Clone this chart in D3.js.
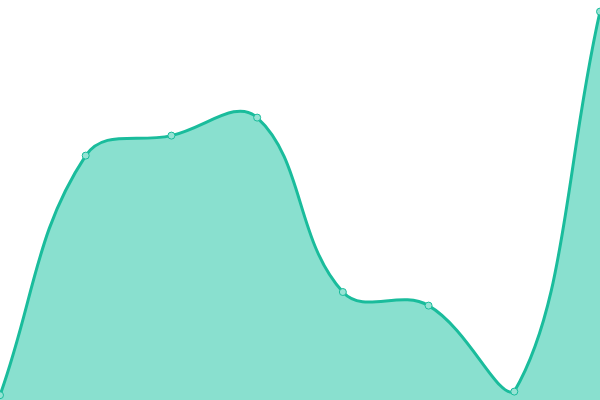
<!DOCTYPE html>
<html>
<head>
<meta charset="utf-8">
<script src="https://cdn.jsdelivr.net/npm/d3@7"></script>
<style>
  body { margin: 0; background: #fff; }
  svg { display: block; }
</style>
</head>
<body>
<div id="chart"></div>
<script>
var labels = ["a", "b", "c", "d", "e", "f", "g", "h"];
var values = [1.2, 61.1, 66.1, 70.6, 27.0, 23.6, 2.1, 97.1];

var width = 600, height = 400;

var svg = d3.select("#chart")
    .append("svg")
    .attr("width", width)
    .attr("height", height);

var x = d3.scalePoint().domain(labels).range([0, width]);
var y = d3.scaleLinear().domain([0, 100]).range([height, 0]);

// spline like chart.js (tension 0.4), control points kept inside the area
function splineCurve(context) {
    var pts;
    var t = 0.4;
    function clampX(v) { return Math.max(0, Math.min(width, v)); }
    function clampY(v) { return Math.max(0, Math.min(height, v)); }
    return {
        areaStart: function () { this._line = 0; },
        areaEnd: function () { this._line = NaN; },
        lineStart: function () { pts = []; },
        point: function (px, py) { pts.push([+px, +py]); },
        lineEnd: function () {
            var n = pts.length;
            if (!n) return;
            var ctrl = pts.map(function (p, i) {
                var prev = pts[Math.max(0, i - 1)], next = pts[Math.min(n - 1, i + 1)];
                var d01 = Math.hypot(p[0] - prev[0], p[1] - prev[1]);
                var d12 = Math.hypot(next[0] - p[0], next[1] - p[1]);
                var s01 = d01 / (d01 + d12), s12 = d12 / (d01 + d12);
                if (isNaN(s01)) s01 = 0;
                if (isNaN(s12)) s12 = 0;
                var fa = t * s01, fb = t * s12;
                return {
                    inX: clampX(p[0] - fa * (next[0] - prev[0])),
                    inY: clampY(p[1] - fa * (next[1] - prev[1])),
                    outX: clampX(p[0] + fb * (next[0] - prev[0])),
                    outY: clampY(p[1] + fb * (next[1] - prev[1]))
                };
            });
            if (this._line) context.lineTo(pts[0][0], pts[0][1]);
            else context.moveTo(pts[0][0], pts[0][1]);
            for (var i = 1; i < n; i++) {
                context.bezierCurveTo(ctrl[i - 1].outX, ctrl[i - 1].outY,
                                      ctrl[i].inX, ctrl[i].inY,
                                      pts[i][0], pts[i][1]);
            }
            if (this._line || (this._line !== 0 && n === 1)) context.closePath();
            this._line = 1 - this._line;
        }
    };
}

var data = labels.map(function (l, i) { return {label: l, value: values[i]}; });

var area = d3.area()
    .x(function (d) { return x(d.label); })
    .y0(height)
    .y1(function (d) { return y(d.value); })
    .curve(splineCurve);

var line = d3.line()
    .x(function (d) { return x(d.label); })
    .y(function (d) { return y(d.value); })
    .curve(splineCurve);

svg.append("path")
    .attr("d", area(data))
    .style("fill", "#89e0cf");

svg.append("path")
    .attr("d", line(data))
    .style("fill", "none")
    .style("stroke", "#1abc9c")
    .style("stroke-width", 3);

svg.append("g")
    .selectAll("circle")
    .data(data)
    .enter()
    .append("circle")
    .attr("cx", function (d) { return x(d.label); })
    .attr("cy", function (d) { return y(d.value); })
    .attr("r", 3.5)
    .style("fill", "#96e3d4")
    .style("stroke", "#1abc9c")
    .style("stroke-width", 1);
</script>
</body>
</html>
